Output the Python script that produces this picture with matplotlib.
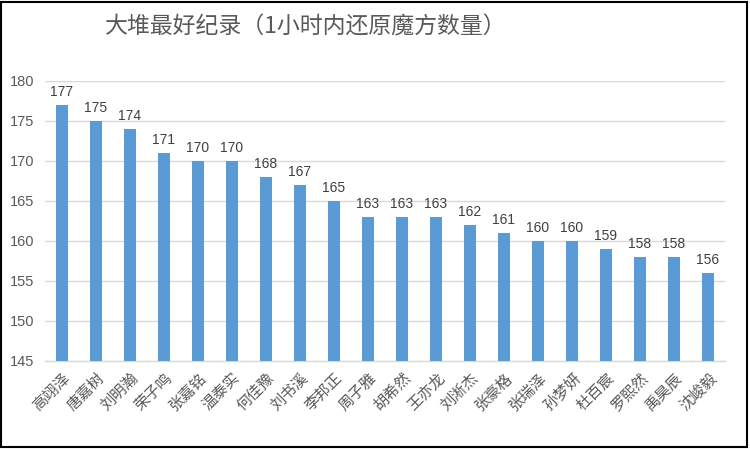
import matplotlib
matplotlib.use("Agg")
import matplotlib.pyplot as plt
from matplotlib.patches import Rectangle

plt.rcParams['font.family'] = ['Noto Sans CJK SC', 'DejaVu Sans']

names = ["高翊泽", "唐嘉树", "刘明瀚", "荣子鸣", "张嘉铭", "温泰实", "何佳豫", "刘书溪",
         "李邦正", "周子雅", "胡希然", "王亦龙", "刘淅杰", "张豪格", "张瑞泽", "孙梦妍",
         "杜百宸", "罗熙然", "禹昊辰", "沈峻毅"]
values = [177, 175, 174, 171, 170, 170, 168, 167, 165, 163, 163, 163, 162, 161, 160, 160,
          159, 158, 158, 156]
yticks = [145, 150, 155, 160, 165, 170, 175, 180]
title = "大堆最好纪录（1小时内还原魔方数量）"

W, H = 750, 449
fig = plt.figure(figsize=(W / 100, H / 100), dpi=100)
ax = fig.add_axes([45 / W, 1 - 361 / H, (725 - 45) / W, (361 - 81) / H])

x = list(range(len(names)))
ax.bar(x, [v - 145 for v in values], bottom=145, width=0.36, color="#5B9BD5", zorder=3)
for xi, v in zip(x, values):
    ax.text(xi, v + 0.8, str(v), ha="center", va="bottom", fontsize=10, color="#404040",
            family=["Liberation Sans", "DejaVu Sans"])

ax.set_xlim(-0.5, len(names) - 0.5)
ax.set_ylim(145, 180)
ax.set_yticks(yticks)
ax.set_yticklabels([str(t) for t in yticks], fontsize=10.5, color="#595959",
                   family=["Liberation Sans", "DejaVu Sans"])
ax.yaxis.grid(True, color="#D9D9D9", linewidth=1, zorder=0)
ax.set_axisbelow(True)
for s in ["top", "right", "left"]:
    ax.spines[s].set_visible(False)
ax.spines["bottom"].set_color("#D9D9D9")
ax.spines["bottom"].set_linewidth(1)
ax.tick_params(axis="both", length=0)
ax.tick_params(axis="y", pad=8)
ax.set_xticks(x)
ax.set_xticklabels(names, rotation=45, ha="right", va="top", rotation_mode="anchor",
                   fontsize=11, color="#595959")
ax.tick_params(axis="x", pad=6)

fig.text(306 / W, 1 - 27 / H, title, ha="center", va="center", fontsize=16.5, color="#595959")

fig.patches.append(Rectangle((1 / W, 2 / H), (W - 4) / W, (H - 4) / H, transform=fig.transFigure,
                             fill=False, edgecolor="black", linewidth=1.5))

fig.savefig("out.png", dpi=100)
